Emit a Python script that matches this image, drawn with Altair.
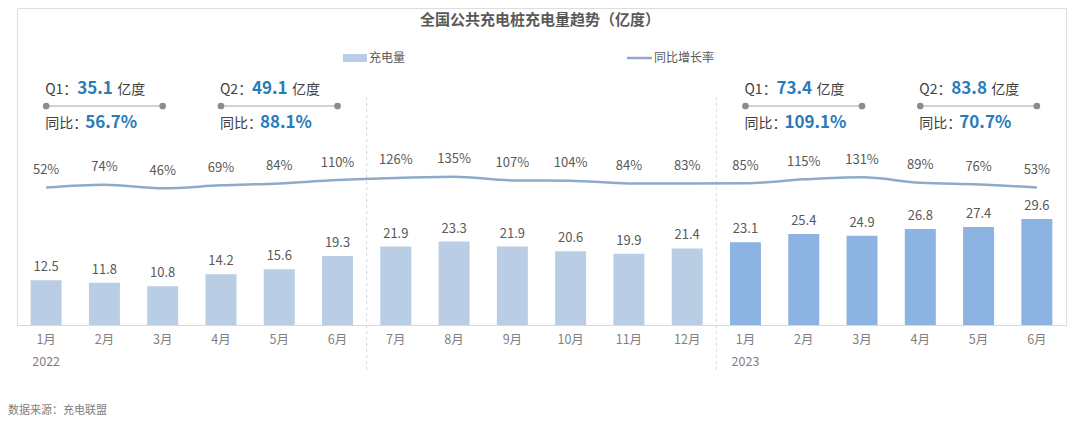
import altair as alt
import pandas as pd

FONT = "Noto Sans CJK SC"

title_text = "全国公共充电桩充电量趋势（亿度）"
legend_bar = "充电量"
legend_line = "同比增长率"
source_text = "数据来源：充电联盟"

months = ["1月", "2月", "3月", "4月", "5月", "6月", "7月", "8月", "9月", "10月", "11月", "12月",
          "1月", "2月", "3月", "4月", "5月", "6月"]
month_num = [1, 2, 3, 4, 5, 6, 7, 8, 9, 10, 11, 12, 1, 2, 3, 4, 5, 6]
years = ["2022"] * 12 + ["2023"] * 6
charge = [12.5, 11.8, 10.8, 14.2, 15.6, 19.3, 21.9, 23.3, 21.9, 20.6, 19.9, 21.4,
          23.1, 25.4, 24.9, 26.8, 27.4, 29.6]
yoy = [52, 74, 46, 69, 84, 110, 126, 135, 107, 104, 84, 83, 85, 115, 131, 89, 76, 53]

ann_quarter = ["Q1", "Q2", "Q1", "Q2"]
ann_total = [35.1, 49.1, 73.4, 83.8]
ann_yoy = [56.7, 88.1, 109.1, 70.7]
ann_first_month = [0, 3, 12, 15]

# zero-padded keys sort chronologically even alphabetically
keys = [f"{y}-{m:02d}" for y, m in zip(years, month_num)]

df = pd.DataFrame({
    "key": keys,
    "month": months,
    "year": years,
    "charge": charge,
    "yoy": yoy,
    "yoy_label": [f"{v}%" for v in yoy],
})

year_df = pd.DataFrame({
    "key": [keys[years.index(y)] for y in ["2022", "2023"]],
    "year": ["2022", "2023"],
})

ann_df = pd.DataFrame({
    "start": [keys[i] for i in ann_first_month],
    "end": [keys[i + 2] for i in ann_first_month],
    "q": [q + "：" for q in ann_quarter],
    "total": [f"{v}" for v in ann_total],
    "unit": ["亿度"] * 4,
    "yoy_head": ["同比："] * 4,
    "yoy": [f"{v}%" for v in ann_yoy],
})

W = 1049
H = 317
n = len(keys)
step = W / n
PX_PER_UNIT = 3.58

TEXT = "#595959"
AXIS_TEXT = "#7f7f7f"
BLUE = "#2b7bb9"
LINE = "#8eaacb"

xenc = alt.X(
    "key:N", sort=keys,
    scale=alt.Scale(domain=keys, paddingInner=0.47, paddingOuter=0.235),
    axis=alt.Axis(title=None, labelExpr="toNumber(substring(datum.value, 5)) + '月'", ticks=False, tickSize=0,
                  domainColor="#d9d9d9", domainWidth=1, labelColor=AXIS_TEXT, labelFontSize=12.5,
                  labelPadding=8, labelFont=FONT, grid=False, labelAngle=0),
)
xplain = alt.X("key:N", sort=keys)

bar_y = alt.Y("charge:Q", scale=alt.Scale(domain=[0, H / PX_PER_UNIT]), axis=None)
line_y = alt.Y("yoy:Q", scale=alt.Scale(domain=[-1005, 1433]), axis=None)

base = alt.Chart(df)

bars = base.mark_bar(size=31).encode(
    x=xenc, y=bar_y,
    color=alt.Color("year:N", scale=alt.Scale(domain=["2022", "2023"], range=["#b9cde5", "#8db3e2"]),
                    legend=None),
)
bar_labels = base.mark_text(dy=-13, font=FONT, fontSize=13, color=TEXT).encode(
    x=xplain, y=bar_y, text="charge:N"
)
line = base.mark_line(interpolate="monotone", strokeWidth=2.5, color=LINE).encode(
    x=xplain, y=line_y
)
line_labels = base.mark_text(dy=-17.5, font=FONT, fontSize=13, color=TEXT).encode(
    x=xplain, y=line_y, text="yoy_label:N"
)

year_labels = alt.Chart(year_df).mark_text(font=FONT, fontSize=12.5, color=AXIS_TEXT, baseline="middle").encode(
    x=xplain, y=alt.value(H + 36.5), text="year:N"
)

sep_df = pd.DataFrame({"pos": [6 * step, 12 * step]})
seps = alt.Chart(sep_df).mark_rule(color="#d9d9d9", strokeDash=[3, 3], strokeWidth=1).encode(
    x=alt.X("pos:Q", scale=None), y=alt.value(89), y2=alt.value(365)
)

ann = alt.Chart(ann_df)
ann_q = ann.mark_text(align="left", baseline="middle", dx=-1, font=FONT, fontSize=14, color="#404040").encode(
    x=alt.X("start:N", sort=keys), y=alt.value(82), text="q:N")
ann_total_t = ann.mark_text(align="left", baseline="middle", dx=31, font=FONT, fontSize=17,
                            fontWeight="bold", color=BLUE).encode(
    x=alt.X("start:N", sort=keys), y=alt.value(81), text="total:N")
ann_unit = ann.mark_text(align="left", baseline="middle", dx=71, font=FONT, fontSize=14, color="#404040").encode(
    x=alt.X("start:N", sort=keys), y=alt.value(82), text="unit:N")
ann_rule = ann.mark_rule(color="#a6a6a6", strokeWidth=1.2).encode(
    x=alt.X("start:N", sort=keys), x2="end:N", y=alt.value(98))
ann_dot1 = ann.mark_circle(size=45, color="#8c8c8c", opacity=1).encode(
    x=alt.X("start:N", sort=keys), y=alt.value(98))
ann_dot2 = ann.mark_circle(size=45, color="#8c8c8c", opacity=1).encode(
    x=alt.X("end:N", sort=keys), y=alt.value(98))
ann_yh = ann.mark_text(align="left", baseline="middle", dx=-1, font=FONT, fontSize=14, color="#404040").encode(
    x=alt.X("start:N", sort=keys), y=alt.value(116), text="yoy_head:N")
ann_yv = ann.mark_text(align="left", baseline="middle", dx=39, font=FONT, fontSize=17,
                       fontWeight="bold", color=BLUE).encode(
    x=alt.X("start:N", sort=keys), y=alt.value(115), text="yoy:N")

one = pd.DataFrame({"t": [title_text], "lb": [legend_bar], "ll": [legend_line], "src": [source_text]})
c1 = alt.Chart(one)
title = c1.mark_text(font=FONT, fontSize=15, fontWeight="bold", color=TEXT, baseline="middle").encode(
    x=alt.value(523), y=alt.value(12), text="t:N")
leg_rect = c1.mark_rect(color="#b9cde5").encode(
    x=alt.value(326), x2=alt.value(350), y=alt.value(46), y2=alt.value(54))
leg_bar_t = c1.mark_text(font=FONT, fontSize=12, color=TEXT, align="left", baseline="middle").encode(
    x=alt.value(352), y=alt.value(50), text="lb:N")
leg_line = c1.mark_rule(color=LINE, strokeWidth=2.5).encode(
    x=alt.value(610), x2=alt.value(635), y=alt.value(50))
leg_line_t = c1.mark_text(font=FONT, fontSize=12, color=TEXT, align="left", baseline="middle").encode(
    x=alt.value(637), y=alt.value(50), text="ll:N")
src = c1.mark_text(font=FONT, fontSize=11, color=AXIS_TEXT, align="left", baseline="middle").encode(
    x=alt.value(-9), y=alt.value(403), text="src:N")

chart = alt.layer(
    seps, bars, bar_labels, line, line_labels, year_labels,
    ann_rule, ann_dot1, ann_dot2, ann_q, ann_total_t, ann_unit, ann_yh, ann_yv,
    title, leg_rect, leg_bar_t, leg_line, leg_line_t, src,
).resolve_scale(y="independent").properties(
    width=W, height=H,
    padding={"left": 9, "top": 0, "right": 6, "bottom": 92},
    autosize=alt.AutoSizeParams(type="none"),
).configure_view(stroke=None).configure(background="white")

chart.save("out.html", embed_options={"renderer": "svg", "actions": False})
